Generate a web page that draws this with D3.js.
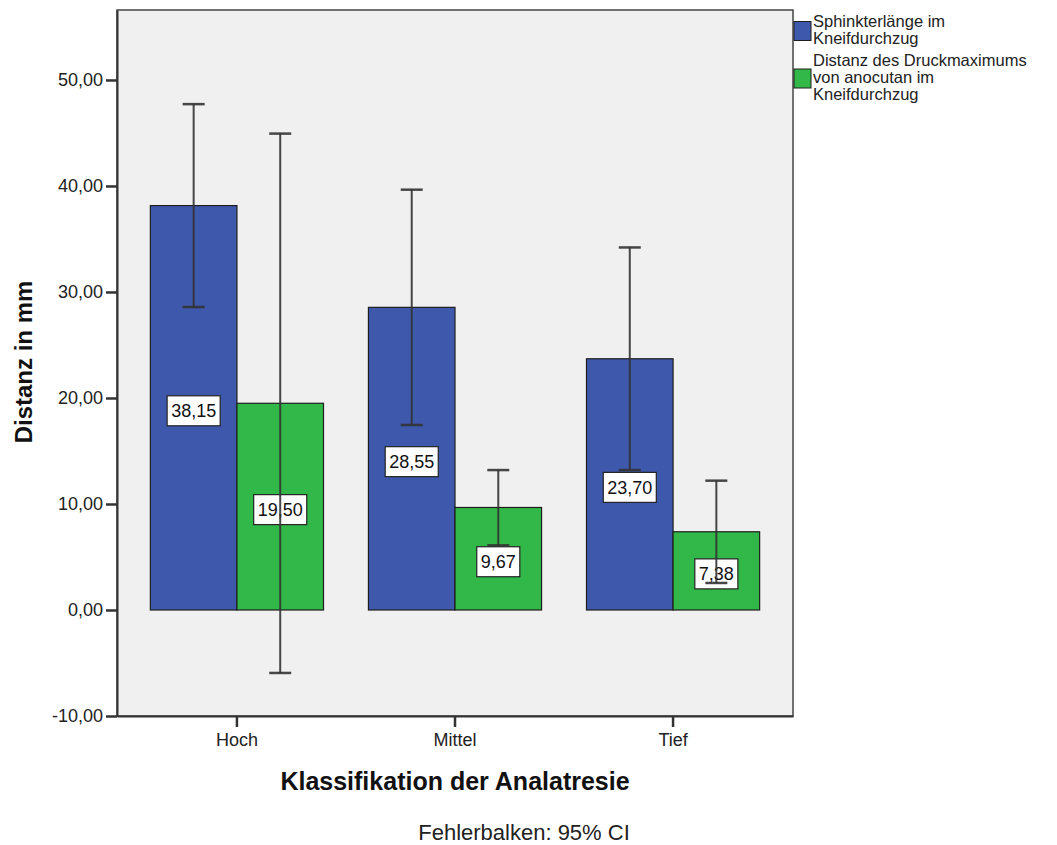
<!DOCTYPE html>
<html>
<head>
<meta charset="utf-8">
<script src="https://cdn.jsdelivr.net/npm/d3@7"></script>
<style>
  html, body { margin: 0; padding: 0; background: #ffffff; }
  svg { display: block; font-family: "Liberation Sans", Arial, sans-serif; }
</style>
</head>
<body>
<svg id="chart" width="1057" height="845"></svg>
<script>
// Categories (anal atresia classification)
const categories = ["Hoch", "Mittel", "Tief"];
const seriesNames = [
  "Sphinkterlänge im Kneifdurchzug",
  "Distanz des Druckmaximums von anocutan im Kneifdurchzug"
];
const legendLines = [
  ["Sphinkterlänge im", "Kneifdurchzug"],
  ["Distanz des Druckmaximums", "von anocutan im", "Kneifdurchzug"]
];
// Means (mm)
const sphinkterMean = [38.15, 28.55, 23.70];
const druckMean = [19.50, 9.67, 7.38];
// 95% CI bounds
const sphinkterLow = [28.58, 17.45, 13.20];
const sphinkterHigh = [47.72, 39.65, 34.20];
const druckLow = [-5.94, 6.10, 2.55];
const druckHigh = [44.94, 13.20, 12.20];
// Axis ticks
const yTicks = [-10, 0, 10, 20, 30, 40, 50];
const colors = ["#3e58ac", "#32b848"];

const svg = d3.select("#chart");
const plot = { left: 117, right: 793, top: 10, bottom: 716 };

const y = d3.scaleLinear().domain([-10, 56.6]).range([plot.bottom, plot.top]);
const x0 = d3.scaleBand().domain(categories).range([plot.left, plot.right])
  .paddingInner(0.206).paddingOuter(0.153);
const x1 = d3.scaleBand().domain([0, 1]).range([0, x0.bandwidth()]);

const fmt = v => d3.format(".2f")(v).replace(".", ",").replace("\u2212", "-");

// Plot background
svg.append("rect")
  .attr("x", plot.left).attr("y", plot.top)
  .attr("width", plot.right - plot.left).attr("height", plot.bottom - plot.top)
  .attr("fill", "#f0f0f0").attr("stroke", "#444").attr("stroke-width", 1.5);

const rows = categories.map((c, i) => [
  { cat: c, s: 0, mean: sphinkterMean[i], lo: sphinkterLow[i], hi: sphinkterHigh[i] },
  { cat: c, s: 1, mean: druckMean[i], lo: druckLow[i], hi: druckHigh[i] }
]).flat();

// Bars
svg.append("g").selectAll("rect").data(rows).join("rect")
  .attr("x", d => x0(d.cat) + x1(d.s))
  .attr("width", x1.bandwidth())
  .attr("y", d => y(Math.max(0, d.mean)))
  .attr("height", d => Math.abs(y(d.mean) - y(0)))
  .attr("fill", d => colors[d.s])
  .attr("stroke", "#1e1e1e").attr("stroke-width", 1.2);

// Value labels in the middle of each bar
const lab = svg.append("g").selectAll("g").data(rows).join("g")
  .attr("transform", d => `translate(${x0(d.cat) + x1(d.s) + x1.bandwidth() / 2},${(y(d.mean) + y(0)) / 2 + 3})`);
lab.append("text")
  .attr("text-anchor", "middle").attr("dy", "0.35em")
  .attr("font-size", 18).attr("fill", "#111")
  .text(d => fmt(d.mean))
  .each(function () {
    const b = this.getBBox();
    d3.select(this.parentNode).insert("rect", "text")
      .attr("x", b.x - 4).attr("y", -15)
      .attr("width", b.width + 8).attr("height", 30)
      .attr("fill", "#fff").attr("stroke", "#222").attr("stroke-width", 1.2);
  });

// Error bars (95% CI)
const eb = svg.append("g").attr("stroke", "#333").attr("stroke-opacity", 0.9);
const cx = d => x0(d.cat) + x1(d.s) + x1.bandwidth() / 2;
eb.selectAll("line.v").data(rows).join("line").attr("class", "v")
  .attr("x1", cx).attr("x2", cx)
  .attr("y1", d => y(d.lo)).attr("y2", d => y(d.hi))
  .attr("stroke-width", 2);
eb.selectAll("line.hi").data(rows).join("line").attr("class", "hi")
  .attr("x1", d => cx(d) - 11).attr("x2", d => cx(d) + 11)
  .attr("y1", d => y(d.hi)).attr("y2", d => y(d.hi))
  .attr("stroke-width", 2.5);
eb.selectAll("line.lo").data(rows).join("line").attr("class", "lo")
  .attr("x1", d => cx(d) - 11).attr("x2", d => cx(d) + 11)
  .attr("y1", d => y(d.lo)).attr("y2", d => y(d.lo))
  .attr("stroke-width", 2.5);

// Y axis
const yAxis = svg.append("g").attr("transform", `translate(${plot.left},0)`)
  .call(d3.axisLeft(y).tickValues(yTicks).tickFormat(fmt).tickSize(11).tickSizeOuter(0).tickPadding(3));
yAxis.select(".domain").attr("stroke", "#333").attr("stroke-width", 2);
yAxis.selectAll(".tick line").attr("stroke", "#333").attr("stroke-width", 2.5);
yAxis.selectAll(".tick text").attr("font-size", 18).attr("fill", "#222")
  .attr("font-family", "Liberation Sans, Arial, sans-serif");

// X axis
const xAxis = svg.append("g").attr("transform", `translate(0,${plot.bottom})`)
  .call(d3.axisBottom(x0).tickSize(11).tickSizeOuter(0).tickPadding(6));
xAxis.select(".domain").attr("stroke", "#333").attr("stroke-width", 2);
xAxis.selectAll(".tick line").attr("stroke", "#333").attr("stroke-width", 2.5);
xAxis.selectAll(".tick text").attr("font-size", 18).attr("fill", "#222")
  .attr("font-family", "Liberation Sans, Arial, sans-serif");

// Axis titles
svg.append("text")
  .attr("transform", `translate(32,362) rotate(-90)`)
  .attr("text-anchor", "middle").attr("font-size", 24).attr("font-weight", "bold")
  .attr("fill", "#111").text("Distanz in mm");
svg.append("text")
  .attr("x", (plot.left + plot.right) / 2).attr("y", 790)
  .attr("text-anchor", "middle").attr("font-size", 25).attr("font-weight", "bold")
  .attr("fill", "#111").text("Klassifikation der Analatresie");
svg.append("text")
  .attr("x", 524).attr("y", 840)
  .attr("text-anchor", "middle").attr("font-size", 22)
  .attr("fill", "#222").text("Fehlerbalken: 95% CI");

// Legend
const legendTop = [27, 66];
const lineGap = 17;
const leg = svg.append("g");
legendLines.forEach((lines, i) => {
  const g = leg.append("g").attr("aria-label", seriesNames[i]);
  const n = lines.length;
  const mid = legendTop[i] + (n - 1) * lineGap / 2 - 5;
  g.append("rect")
    .attr("x", 794).attr("y", mid - 9).attr("width", 17).attr("height", 19)
    .attr("fill", colors[i]).attr("stroke", "#1e1e1e").attr("stroke-width", 1);
  lines.forEach((t, j) => {
    g.append("text").attr("x", 813).attr("y", legendTop[i] + j * lineGap)
      .attr("font-size", 16.5).attr("fill", "#222").text(t);
  });
});
</script>
</body>
</html>
